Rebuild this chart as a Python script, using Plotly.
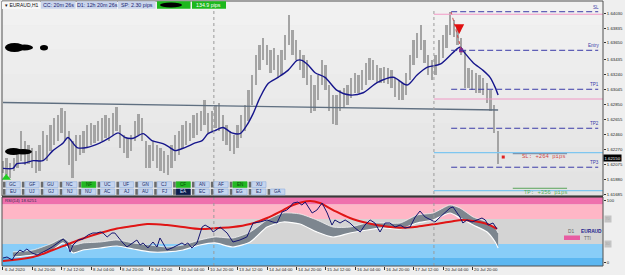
import plotly.graph_objects as go

W, H = 625, 275
def PX(x): return x / W
def PY(y): return 1 - y / H

# ---------------- data ----------------
bar_high = [1.6212,1.6215,1.6209,1.6216,1.6225,1.6251,1.6238,1.6232,1.6229,1.6225,
            1.6232,1.6251,1.6245,1.6258,1.6267,1.6271,1.6280,1.6277,1.6251,1.6238,
            1.6245,1.6245,1.6251,1.6258,1.6261,1.6258,1.6264,1.6267,1.6271,1.6267,
            1.6274,1.6281,1.6258,1.6245,1.6241,1.6245,1.6264,1.6273,1.6267,1.6238,
            1.6232,1.6238,1.6232,1.6228,1.6225,1.6219,1.6232,1.6245,1.6251,1.6258,
            1.6264,1.6261,1.6271,1.6274,1.6277,1.6290,1.6274,1.6277,1.6284,1.6287,
            1.6271,1.6258,1.6251,1.6245,1.6258,1.6271,1.6284,1.6303,1.6323,1.6349,
            1.6362,1.6371,1.6362,1.6355,1.6358,1.6349,1.6355,1.6375,1.6401,1.6381,
            1.6368,1.6355,1.6349,1.6342,1.6323,1.6310,1.6323,1.6342,1.6336,1.6310,
            1.6297,1.6297,1.6303,1.6306,1.6310,1.6319,1.6326,1.6323,1.6329,1.6339,
            1.6345,1.6342,1.6336,1.6332,1.6334,1.6332,1.6329,1.6319,1.6316,1.6313,
            1.6326,1.6349,1.6368,1.6377,1.6388,1.6368,1.6349,1.6342,1.6349,1.6368,
            1.6375,1.6388,1.6404,1.6394,1.6384,1.6371,1.6355,1.6332,1.6329,1.6326,
            1.6323,1.6319,1.6312,1.6303,1.6284,1.6251]
bar_low = [1.6196,1.6193,1.6190,1.6199,1.6202,1.6212,1.6206,1.6208,1.6203,1.6196,
           1.6199,1.6212,1.6212,1.6225,1.6232,1.6238,1.6248,1.6238,1.6206,1.6189,
           1.6212,1.6219,1.6222,1.6228,1.6232,1.6235,1.6238,1.6238,1.6241,1.6238,
           1.6245,1.6251,1.6228,1.6222,1.6216,1.6225,1.6238,1.6245,1.6238,1.6202,
           1.6202,1.6212,1.6202,1.6199,1.6196,1.6193,1.6202,1.6212,1.6219,1.6228,
           1.6232,1.6238,1.6241,1.6245,1.6251,1.6258,1.6248,1.6251,1.6254,1.6251,
           1.6238,1.6232,1.6225,1.6221,1.6228,1.6241,1.6251,1.6264,1.6284,1.6310,
           1.6329,1.6342,1.6336,1.6326,1.6329,1.6319,1.6323,1.6342,1.6362,1.6349,
           1.6342,1.6329,1.6319,1.6310,1.6274,1.6277,1.6290,1.6310,1.6303,1.6277,
           1.6260,1.6258,1.6277,1.6280,1.6284,1.6293,1.6300,1.6300,1.6303,1.6310,
           1.6316,1.6316,1.6313,1.6312,1.6313,1.6311,1.6306,1.6294,1.6290,1.6290,
           1.6297,1.6316,1.6336,1.6345,1.6355,1.6339,1.6323,1.6316,1.6323,1.6336,
           1.6345,1.6358,1.6375,1.6372,1.6362,1.6349,1.6306,1.6306,1.6303,1.6300,
           1.6300,1.6297,1.6287,1.6277,1.6248,1.6208]
bar_idx = list(range(len(bar_high)))

ma_idx = [0,2.7,3.8,6,8.2,10.9,13.6,16.4,17.7,20.2,22.9,26.5,29.2,31.4,33.3,35.5,38.2,40.6,43.6,45.5,
          46.9,49.6,52.4,54.3,55.9,57.8,60,62.4,64.6,66.5,68.2,70.1,72.3,75,77.7,80.2,81.5,83.2,85.1,87.8,
          91.1,94.6,98.2,102,106.4,110.2,112.9,115.6,119.2,122.7,124.6,126,128.2,130.9,132.8,134.2,135]
ma_val = [1.6202,1.6202,1.6208,1.6209,1.6212,1.6212,1.6225,1.6235,1.6242,1.6229,
          1.6229,1.6235,1.6242,1.6248,1.6242,1.6241,1.6247,1.6238,1.6234,1.6229,
          1.6225,1.6229,1.6235,1.6238,1.6247,1.6251,1.6255,1.6248,1.6247,1.6258,
          1.6273,1.6294,1.6312,1.6320,1.6329,1.6342,1.6342,1.6336,1.6326,1.6320,
          1.6303,1.6297,1.6300,1.6313,1.6320,1.6310,1.6323,1.6333,1.6337,1.6352,
          1.6359,1.6351,1.6339,1.6329,1.6320,1.6307,1.6297]

trend_idx = [0, 135]
trend_price = [1.62873, 1.62776]

level_names = ["SL", "Entry", "TP1", "TP2", "TP3"]
level_prices = [1.64050, 1.63550, 1.63045, 1.62540, 1.62035]
pink_lines = [1.64017, 1.62919]
blue_lines = [1.62223, 1.61731]
current_price = 1.62150

ytick_vals = [1.64030,1.63835,1.63650,1.63435,1.63240,1.63045,1.62850,1.62655,
              1.62460,1.62270,1.62075,1.61880,1.61685]
ytick_text = ["1.64030","1.63835","1.63650","1.63435","1.63240","1.63045","1.62850",
              "1.62655","1.62460","1.62270","1.62075","1.61880","1.61685"]

xtick_idx = [0,8,16,24,32,40,48,56,64,72,80,88,96,104,112,120,128]
xtick_text = ["6 Jul 2020","6 Jul 20:00","7 Jul 12:00","8 Jul 04:00","8 Jul 20:00",
              "9 Jul 12:00","10 Jul 04:00","10 Jul 20:00","13 Jul 12:00","14 Jul 04:00",
              "14 Jul 20:00","15 Jul 12:00","16 Jul 04:00","16 Jul 20:00","17 Jul 12:00",
              "20 Jul 04:00","20 Jul 20:00"]
week_sep_idx = [57.5, 117.5]

rsi_idx = [0,1.1,2.5,3.3,4.6,5.5,6.5,7.9,9.3,10.6,12,13.4,15,16.4,17.5,18.3,19.1,20.5,21.8,23.2,
           24.5,25.6,26.5,27.3,28.4,29.7,30.5,31.9,32.7,33.8,35.2,36.5,37.4,38.2,39.5,40.9,42,42.8,43.6,44.7,
           46.1,47.5,48.8,49.6,50.4,51.5,52.9,54.3,55.1,56.5,57.3,59.2,61.1,62.7,64.6,66.5,68.2,70.1,72,73.6,
           74.7,76.1,77.4,78.3,79.1,80.4,81.5,82.4,84.3,85.6,87,88.4,89.7,90.5,91.9,93.3,94.6,96,97.4,98.7,
           100.1,101.4,102.8,104.2,105.5,106.9,108.3,109.6,111,112.4,113.7,115.1,116.4,117.8,119.2,120.5,
           121.9,122.7,123.8,124.6,125.4,126.5,127.9,129.3,130.6,131.5,132.3,133.6,134.7]
rsi_val = [7.9,9.5,4.8,12.7,20.6,17.5,22.2,15.9,12.7,15.9,20.6,25.4,31.8,38.1,31.8,17.5,28.6,36.5,38.1,44.5,
           47.6,47.6,49.2,47.6,41.3,47.6,47.6,36.5,31.8,25.4,31.8,36.5,28.6,31.8,23.8,33.3,25.4,39.7,31.8,20.6,
           23.8,28.6,31.8,28.6,31.8,23.8,31.8,57.1,60.3,55.6,49.2,57.1,47.6,33.3,36.5,41.3,63.5,65.1,68.3,65.1,
           63.5,81,84.1,88.9,95.2,96.8,92.1,96.8,79.4,84.1,95.2,79.4,60.3,68.3,63.5,68.3,63.5,55.6,49.2,60.3,
           68.3,63.5,49.2,63.5,63.5,57.1,60.3,55.6,57.1,73,82.5,73,69.8,65.1,73,79.4,
           87.3,88.9,79.4,73,63.5,68.3,65.1,68.3,71.4,68.3,60.3,63.5,54]

sig_idx = [0,8.2,13.6,17.5,21.8,26.5,31.1,35.5,39.3,44.7,49.1,53.7,58.4,62.7,67.4,72,76.4,79.1,83.7,86.4,
           90,94.6,99.3,103.6,108.3,112.9,117.3,121.9,125.4,128.2,132,134.7]
sig_val = [3.2,9.5,20.6,29.4,38.9,47.6,54.8,58.7,61.9,60.3,57.1,54,55.6,57.1,61.9,71.4,84.1,92,98.4,95.2,
           84.1,71.4,63.5,58.7,56,57.6,61.4,65.6,68.3,66.7,61.9,54]

band_idx = [2.7,8.2,13.6,16.4,19.1,21.8,26.5,31.1,35.5,40.1,44.7,49.1,53.7,57.8,62.7,67.4,72,76.4,81,85.6,
            90,94.6,99.3,103.6,108.3,112.9,117.3,121.9,124.6,128.2,132,134.2,135]
band_hi = [17.5,20.6,31.8,39.7,28.6,31.8,33.3,36.5,31.8,28.6,25.4,28.6,36.5,41.3,39.7,49.2,68.3,79.4,77.8,68.3,
           57.1,57.1,63.5,63.5,63.5,76.2,79.4,92.1,87.3,73,65.1,55.6,47.6]
band_lo = [9.5,12.7,20.6,31.8,15.9,20.6,23.8,27,22.2,17.5,17.5,20.6,28.6,31.8,25.4,33.3,57.1,65.1,61.9,49.2,
           41.3,47.6,52.4,55.6,54,63.5,68.3,79.4,71.4,60.3,49.2,33.3,23.8]

buttons_row1 = ["GC","GF","GU","NC","NF","UC","UF","GN","CJ","CF","AN","AF","EN","XU"]
buttons_row2 = ["EU","UJ","GJ","NJ","NU","AC","AJ","AU","FJ","EA","EC","EF","EG","EJ","GA"]
green_buttons = {"NF", "CF", "EN"}
active_button = "EA"

header_boxes = ["CC: 20m 26s", "D1: 12h 20m 26s", "SP: 2.30 pips", "", "134.9 pips"]

# ---------------- figure ----------------
FONT = "Liberation Sans"
NAVY = "#3b3ba8"
fig = go.Figure()

fig.add_trace(go.Bar(x=bar_idx, y=[h - l for h, l in zip(bar_high, bar_low)], base=bar_low,
                     width=0.5, marker=dict(color="#a4a4a4", line=dict(width=0)),
                     xaxis="x", yaxis="y", hoverinfo="skip"))
fig.add_trace(go.Scatter(x=trend_idx, y=trend_price, mode="lines",
                         line=dict(color="#5f6f80", width=1.4), xaxis="x", yaxis="y"))
fig.add_trace(go.Scatter(x=ma_idx, y=ma_val, mode="lines",
                         line=dict(color="#16168c", width=1.4, shape="spline", smoothing=0.8),
                         xaxis="x", yaxis="y"))
# trade markers
fig.add_trace(go.Scatter(x=[122.2, 124.9], y=[1.64046, 1.63567], mode="lines",
                         line=dict(color="#d04848", width=1, dash="dot"), xaxis="x", yaxis="y"))
fig.add_trace(go.Scatter(x=[124.9], y=[level_prices[1]], mode="markers",
                         marker=dict(symbol="square", size=4, color="#8a2b8a"), xaxis="x", yaxis="y"))
fig.add_trace(go.Scatter(x=[136.4], y=[1.62167], mode="markers",
                         marker=dict(symbol="square", size=3, color="#e02020"), xaxis="x", yaxis="y"))
fig.add_trace(go.Scatter(x=[0.9], y=[1.6190], mode="markers",
                         marker=dict(symbol="triangle-up", size=8, color="#22cc22"), xaxis="x", yaxis="y"))

# RSI panel traces
fig.add_trace(go.Scatter(x=band_idx, y=band_lo, mode="lines",
                         line=dict(color="#ffffff", width=1.2, shape="spline", smoothing=0.6),
                         xaxis="x2", yaxis="y2"))
fig.add_trace(go.Scatter(x=band_idx, y=band_hi, mode="lines", fill="tonexty", fillcolor="#7d868f",
                         line=dict(color="#f4f4f4", width=0.8, shape="spline", smoothing=0.6),
                         xaxis="x2", yaxis="y2"))
fig.add_trace(go.Scatter(x=sig_idx, y=sig_val, mode="lines",
                         line=dict(color="#e01515", width=2, shape="spline", smoothing=1.0),
                         xaxis="x2", yaxis="y2"))
fig.add_trace(go.Scatter(x=rsi_idx, y=rsi_val, mode="lines",
                         line=dict(color="#141470", width=1), xaxis="x2", yaxis="y2"))

shapes = []
ann = []

# main panel background gradient
grad = ["#f1f1f1", "#efefef", "#ededed", "#ebebeb", "#e9e9e9", "#e7e7e7", "#e5e5e5", "#e3e3e3"]
for i, col in enumerate(grad):
    y0 = 1 + i * 195 / len(grad)
    y1 = 1 + (i + 1) * 195 / len(grad)
    shapes.append(dict(type="rect", xref="paper", yref="paper", x0=PX(2), x1=PX(603),
                       y0=PY(y1), y1=PY(y0), fillcolor=col, line=dict(width=0), layer="below"))

# RSI background bands
for lo, hi, col in [(93, 110, "#ef70ad"), (70, 93, "#ffb6c6"), (30, 70, "#d4d4d4"),
                    (8, 30, "#88cdf8"), (-10, 8, "#5cb7f1")]:
    shapes.append(dict(type="rect", xref="paper", yref="y2", x0=PX(2), x1=PX(603), y0=lo, y1=hi,
                       fillcolor=col, line=dict(width=0), layer="below"))

# week separators
for k in week_sep_idx:
    shapes.append(dict(type="line", xref="x", yref="paper", x0=k, x1=k, y0=PY(266), y1=PY(9),
                       line=dict(color="#9a9a9a", width=1, dash="dot")))

# level lines
for name, p in zip(level_names, level_prices):
    shapes.append(dict(type="line", xref="x", yref="y", x0=122.2, x1=162.3, y0=p, y1=p,
                       line=dict(color=NAVY, width=1, dash="6px,3px")))
    ann.append(dict(text=name, xref="paper", yref="y", x=PX(601), y=p, xanchor="right",
                    yanchor="bottom", showarrow=False, font=dict(size=4.6, color=NAVY, family=FONT)))
for p in pink_lines:
    shapes.append(dict(type="line", xref="x", yref="y", x0=117.5, x1=163.6, y0=p, y1=p,
                       line=dict(color="#f29ac6", width=1.2)))
for p in blue_lines:
    shapes.append(dict(type="line", xref="x", yref="y", x0=117.5, x1=163.6, y0=p, y1=p,
                       line=dict(color="#7ec6f0", width=1.2)))
shapes.append(dict(type="line", xref="x", yref="y", x0=139, x1=153.8, y0=1.62210, y1=1.62210,
                   line=dict(color="#6a86a4", width=1)))
shapes.append(dict(type="line", xref="x", yref="y", x0=139, x1=153.8, y0=1.61762, y1=1.61762,
                   line=dict(color="#5aa55a", width=1)))
ann.append(dict(text="SL: +264 pips", xref="x", yref="y", x=141, y=1.62171, xanchor="left",
                yanchor="middle", showarrow=False,
                font=dict(size=5.6, color="#d04848", family="Liberation Mono")))
ann.append(dict(text="TP: +356 pips", xref="x", yref="y", x=141.5, y=1.61707, xanchor="left",
                yanchor="middle", showarrow=False,
                font=dict(size=5.6, color="#55b055", family="Liberation Mono")))

# sell arrow
ann.append(dict(x=124.4, y=1.63760, xref="x", yref="y", ax=0, ay=-8, showarrow=True, arrowhead=2,
                arrowsize=0.9, arrowwidth=2.2, arrowcolor="#e01010", text=""))

# current price box
ann.append(dict(text="1.62150", xref="paper", yref="y", x=PX(603), y=current_price,
                xanchor="left", yanchor="middle", showarrow=False, bgcolor="#000000",
                borderpad=0.5, font=dict(size=4.3, color="#ffffff", family=FONT)))

# panel frames
shapes.append(dict(type="rect", xref="paper", yref="paper", x0=PX(2), x1=PX(603), y0=PY(196),
                   y1=PY(1), line=dict(color="#505050", width=1)))
shapes.append(dict(type="rect", xref="paper", yref="paper", x0=PX(2), x1=PX(603), y0=PY(266),
                   y1=PY(197), line=dict(color="#505050", width=1)))
shapes.append(dict(type="line", xref="paper", yref="paper", x0=PX(2), x1=PX(603), y0=PY(196.5),
                   y1=PY(196.5), line=dict(color="#3a3a3a", width=1.5)))

# header
shapes.append(dict(type="rect", xref="paper", yref="paper", x0=PX(2), x1=PX(40), y0=PY(9),
                   y1=PY(1.5), fillcolor="#f8f8f8", line=dict(width=0), layer="above"))
ann.append(dict(text="▾ EURAUD,H1", xref="paper", yref="paper", x=PX(3), y=PY(5.3), xanchor="left",
                yanchor="middle", showarrow=False, font=dict(size=5, color="#111111", family=FONT)))
box_x = [(41, 75.5), (77, 117), (118, 155.5), (157, 190.5), (192, 226)]
box_fill = ["#c9d4ec", "#c9d4ec", "#c9d4ec", "#1db81d", "#1db81d"]
box_font = ["#1a2470", "#1a2470", "#1a2470", "#ffffff", "#ffffff"]
for (x0, x1), txt, fc, tc in zip(box_x, header_boxes, box_fill, box_font):
    shapes.append(dict(type="rect", xref="paper", yref="paper", x0=PX(x0), x1=PX(x1), y0=PY(8.8),
                       y1=PY(1.2), fillcolor=fc, line=dict(width=0), layer="above"))
    if txt:
        ann.append(dict(text=txt, xref="paper", yref="paper", x=PX((x0 + x1) / 2), y=PY(5.1),
                        xanchor="center", yanchor="middle", showarrow=False,
                        font=dict(size=5.3, color=tc, family=FONT)))

# redaction blobs
for (x0, y0, x1, y1) in [(160, 2.5, 182, 7.5), (5, 43, 24, 52), (16, 44.5, 33, 50.5),
                         (40, 45, 48, 50.5), (5, 148, 22, 155), (14, 149, 32, 154.5)]:
    shapes.append(dict(type="circle", xref="paper", yref="paper", x0=PX(x0), x1=PX(x1),
                       y0=PY(y1), y1=PY(y0), fillcolor="#000000", line=dict(width=0), layer="above"))

# buttons
for row, names in enumerate([buttons_row1, buttons_row2]):
    ytop = 181.7 if row == 0 else 189.0
    ybot = ytop + 5.8
    for i, nm in enumerate(names):
        x0 = 3 + i * 18.9
        if nm in green_buttons:
            fc, tc, bc = "#22b822", "#0d4a0d", "#22b822"
        elif nm == active_button:
            fc, tc, bc = "#0b1d4d", "#d8e4ff", "#0b1d4d"
        else:
            fc, tc, bc = "#c6d5ee", "#1a2a6a", "#8fb0e0"
        shapes.append(dict(type="rect", xref="paper", yref="paper", x0=PX(x0), x1=PX(x0 + 2.6),
                           y0=PY(ybot), y1=PY(ytop), fillcolor="#6a6a6a", line=dict(width=0),
                           layer="above"))
        shapes.append(dict(type="rect", xref="paper", yref="paper", x0=PX(x0 + 3), x1=PX(x0 + 17.3),
                           y0=PY(ybot), y1=PY(ytop), fillcolor=fc, line=dict(color=bc, width=0.6),
                           layer="above"))
        ann.append(dict(text=nm, xref="paper", yref="paper", x=PX(x0 + 10.1), y=PY((ytop + ybot) / 2),
                        xanchor="center", yanchor="middle", showarrow=False,
                        font=dict(size=4.6, color=tc, family=FONT)))

# RSI texts
ann.append(dict(text="RSI(14) 18.6251", xref="paper", yref="paper", x=PX(3), y=PY(200.3),
                xanchor="left", yanchor="middle", showarrow=False,
                font=dict(size=4.3, color="#303050", family=FONT)))
ann.append(dict(text="D1", xref="paper", yref="paper", x=PX(575.5), y=PY(231.2), xanchor="right",
                yanchor="middle", showarrow=False, font=dict(size=4.8, color="#666666", family=FONT)))
ann.append(dict(text="<b>EURAUD</b>", xref="paper", yref="paper", x=PX(579), y=PY(231.2),
                xanchor="left", yanchor="middle", showarrow=False,
                font=dict(size=4.8, color="#1a1a8c", family=FONT)))
shapes.append(dict(type="rect", xref="paper", yref="paper", x0=PX(564), x1=PX(580), y0=PY(240),
                   y1=PY(235.5), fillcolor="#e85ca2", line=dict(width=0), layer="above"))
ann.append(dict(text="TTI", xref="paper", yref="paper", x=PX(582), y=PY(238), xanchor="left",
                yanchor="middle", showarrow=False, font=dict(size=4.6, color="#666666", family=FONT)))
for lv in [70, 30]:
    ann.append(dict(text=str(lv), xref="paper", yref="y2", x=PX(603.5), y=lv, xanchor="left",
                    yanchor="middle", showarrow=False, bgcolor="#c4c4c4", borderpad=0.3,
                    font=dict(size=4, color="#a8a8a8", family=FONT)))

# date labels
for k, t in zip(xtick_idx, xtick_text):
    ann.append(dict(text=t, xref="x2", yref="paper", x=k - 0.1, y=PY(269.6), xanchor="left",
                    yanchor="middle", showarrow=False, font=dict(size=4.3, color="#222222", family=FONT)))

xr = [-0.27, 163.6]
fig.update_layout(
    width=W, height=H, margin=dict(l=0, r=0, t=0, b=0), template="none",
    paper_bgcolor="#efefef", plot_bgcolor="#e8e8e8", showlegend=False, bargap=0,
    xaxis=dict(domain=[PX(2), PX(603)], range=xr, showticklabels=False, showgrid=False,
               zeroline=False, ticks="", anchor="y", automargin=False),
    xaxis2=dict(domain=[PX(2), PX(603)], range=xr, showgrid=False, zeroline=False, anchor="y2",
                tickvals=xtick_idx, ticktext=[""] * len(xtick_idx), ticks="outside", ticklen=3,
                tickcolor="#333333", tickwidth=1, automargin=False),
    yaxis=dict(domain=[PY(196), PY(2)], range=[1.61662, 1.64176], side="right", anchor="x",
               tickvals=ytick_vals, ticktext=ytick_text, ticks="outside", ticklen=2,
               tickcolor="#333333", tickfont=dict(size=4.3, color="#222222", family=FONT),
               showgrid=False, zeroline=False, automargin=False),
    yaxis2=dict(domain=[PY(266), PY(197)], range=[-4.8, 104.8], side="right", anchor="x2",
                tickvals=[0, 100], ticktext=["0", "100"], ticks="outside", ticklen=2,
                tickcolor="#333333", tickfont=dict(size=4.3, color="#222222", family=FONT),
                showgrid=False, zeroline=False, automargin=False),
    shapes=shapes, annotations=ann,
)

fig.write_html("out.html")
